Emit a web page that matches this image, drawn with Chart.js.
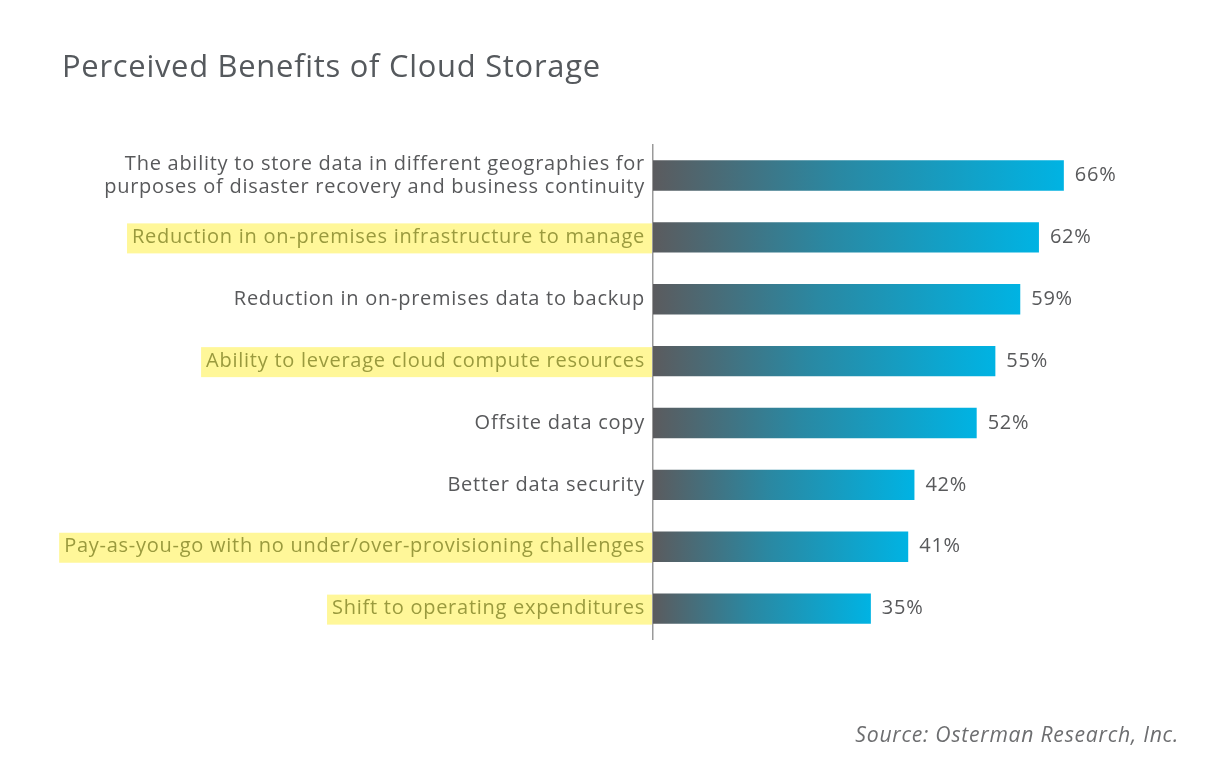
<!DOCTYPE html>
<html>
<head>
<meta charset="utf-8">
<title>Perceived Benefits of Cloud Storage</title>
<script src="https://cdn.jsdelivr.net/npm/chart.js@4.4.0/dist/chart.umd.min.js"></script>
<style>
  html, body { margin: 0; padding: 0; background: #fff; }
  #wrap { width: 1205px; height: 768px; }
</style>
</head>
<body>
<div id="wrap"><canvas id="benefitsChart"></canvas></div>
<script>
var categories = [
  ["The ability to store data in different geographies for", "purposes of disaster recovery and business continuity"],
  "Reduction in on-premises infrastructure to manage",
  "Reduction in on-premises data to backup",
  "Ability to leverage cloud compute resources",
  "Offsite data copy",
  "Better data security",
  "Pay-as-you-go with no under/over-provisioning challenges",
  "Shift to operating expenditures"
];
var percentages = [66, 62, 59, 55, 52, 42, 41, 35];
var highlighted = [false, true, false, true, false, false, true, true];

var FONT = "'Open Sans', 'Noto Sans', sans-serif";
var LABEL_SIZE = 20;
var TICK_PAD = 8;
var SPACING = '0.74px'; // the original face is wider than Open Sans

// yellow marker behind some of the category labels
var labelHighlight = {
  id: 'labelHighlight',
  beforeDraw: function (chart) {
    var y = chart.scales.y;
    var ctx = chart.ctx;
    var left = chart.chartArea.left;
    ctx.letterSpacing = SPACING;
    ctx.save();
    ctx.font = LABEL_SIZE + 'px ' + FONT;
    ctx.fillStyle = '#fff799';
    for (var i = 0; i < categories.length; i++) {
      if (!highlighted[i]) continue;
      var w = ctx.measureText(categories[i]).width;
      var cy = y.getPixelForTick(i);
      var x0 = left - TICK_PAD - w - 5;
      ctx.fillRect(x0, cy - 14, left - 1 - x0, 30);
    }
    ctx.restore();
  }
};

// percentage at the end of each bar
var valueLabels = {
  id: 'valueLabels',
  afterDatasetsDraw: function (chart) {
    var ctx = chart.ctx;
    var meta = chart.getDatasetMeta(0);
    ctx.save();
    ctx.font = LABEL_SIZE + 'px ' + FONT;
    ctx.fillStyle = '#58595b';
    ctx.textAlign = 'left';
    ctx.textBaseline = 'middle';
    meta.data.forEach(function (bar, i) {
      ctx.fillText(percentages[i] + '%', bar.x + 11, bar.y);
    });
    ctx.restore();
  }
};

var ctx = document.getElementById("benefitsChart");

var myBarChart = new Chart(ctx, {
  type: "bar",
  data: {
    labels: categories,
    datasets: [
      {
        label: "share",
        data: percentages,
        barPercentage: 0.49,
        categoryPercentage: 1,
        backgroundColor: function (context) {
          var chart = context.chart;
          if (!chart.chartArea || context.raw === undefined) return '#00b2e3';
          var xs = chart.scales.x;
          var start = xs.getPixelForValue(0);
          var end = xs.getPixelForValue(context.raw);
          var g = chart.ctx.createLinearGradient(start, 0, end, 0);
          g.addColorStop(0, '#5b5b5e');
          g.addColorStop(0.45, '#2a88a2');
          g.addColorStop(1, '#00b3e3');
          return g;
        },
      },
    ],
  },
  options: {
    indexAxis: 'y',
    responsive: true,
    maintainAspectRatio: false,
    animation: false,
    layout: {
      padding: { left: 62, right: 26, top: 0, bottom: 0 }
    },
    scales: {
      x: {
        display: false,
        min: 0,
        max: 84.5
      },
      y: {
        grid: { display: false, drawTicks: false },
        border: { display: true, color: '#9a9a9a', width: 1.5 },
        ticks: {
          padding: TICK_PAD,
          color: function (c) { return highlighted[c.index] ? '#9a9a3e' : '#58595b'; },
          font: { family: FONT, size: LABEL_SIZE, lineHeight: 1.15 }
        },
        afterFit: function (scale) { scale.width = 653 - 62; }
      }
    },
    plugins: {
      legend: { display: false },
      tooltip: { enabled: false },
      title: {
        display: true,
        text: "Perceived Benefits of Cloud Storage",
        align: 'start',
        color: '#55595d',
        font: { family: FONT, size: 30.9, weight: 'normal', lineHeight: 1.2 },
        padding: { top: 50, bottom: 57.5 }
      },
      subtitle: {
        display: true,
        position: 'bottom',
        text: "Source: Osterman Research, Inc.",
        align: 'end',
        color: '#6d6e70',
        font: { family: FONT, size: 21.2, style: 'italic', lineHeight: 1.2 },
        padding: { top: 84, bottom: 19 }
      }
    }
  },
  plugins: [labelHighlight, valueLabels]
});
</script>
</body>
</html>
